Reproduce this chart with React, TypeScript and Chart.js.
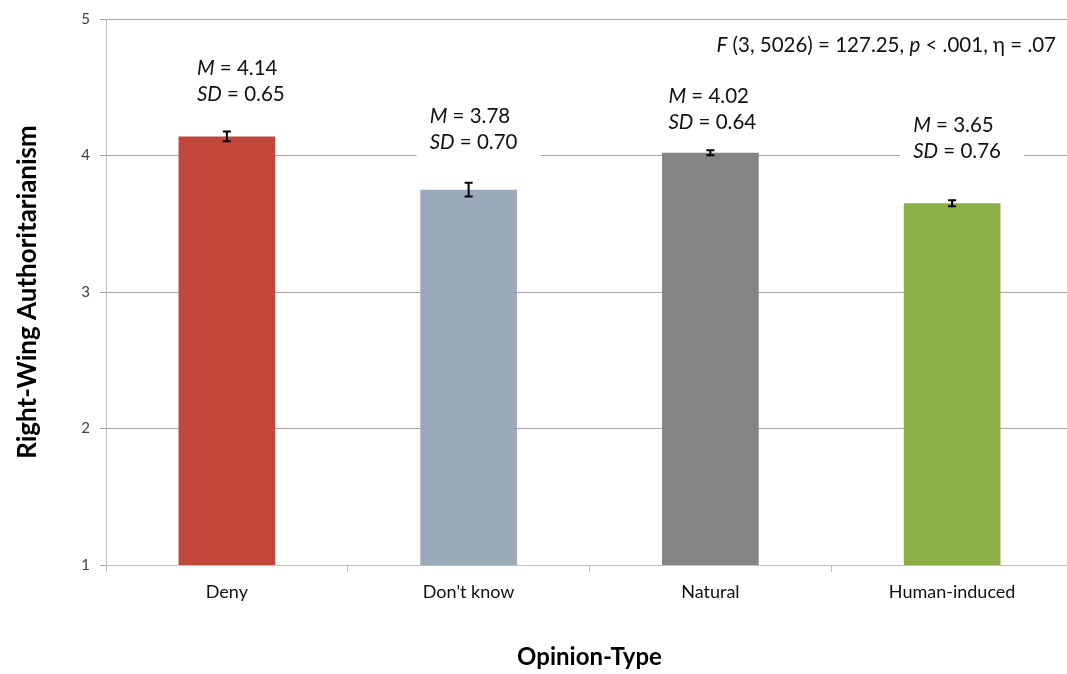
import React, { useEffect, useRef } from "react";
import { Chart, registerables } from "chart.js";

Chart.register(...registerables);

const categories = ["Deny", "Don't know", "Natural", "Human-induced"];
const barValues = [4.14, 3.75, 4.02, 3.65];
const errorValues = [0.035, 0.05, 0.018, 0.022];
const meanLabels = ["4.14", "3.78", "4.02", "3.65"];
const sdLabels = ["0.65", "0.70", "0.64", "0.76"];
const labelLevels = [4.635, 4.285, 4.431, 4.219];
const labelBoxed = [false, true, false, true];
const barColors = ["#C0473A", "#9AAABB", "#848484", "#8CAF48"];
const yTicks = [1, 2, 3, 4, 5];

const FONT = "Lato, 'Open Sans', sans-serif";

const annotPlugin = {
  id: "annot",
  afterDatasetsDraw(chart: any) {
    const ctx = chart.ctx;
    const meta = chart.getDatasetMeta(0);
    const y = chart.scales.y;
    ctx.save();
    // error bars
    ctx.strokeStyle = "#000";
    ctx.lineWidth = 2;
    meta.data.forEach((bar: any, i: number) => {
      const x = bar.x;
      const yt = y.getPixelForValue(barValues[i] + errorValues[i]);
      const yb = y.getPixelForValue(barValues[i] - errorValues[i]);
      ctx.beginPath();
      ctx.moveTo(x, yt);
      ctx.lineTo(x, yb);
      ctx.moveTo(x - 4, yt);
      ctx.lineTo(x + 4, yt);
      ctx.moveTo(x - 4, yb);
      ctx.lineTo(x + 4, yb);
      ctx.stroke();
    });
    // labels
    const size = 20.5;
    const italic = `italic ${size}px ${FONT}`;
    const normal = `${size}px ${FONT}`;
    const drawParts = (parts: [string, boolean][], x: number, yy: number) => {
      let cx = x;
      parts.forEach(([t, it]) => {
        ctx.font = it ? italic : normal;
        ctx.fillText(t, cx, yy);
        cx += ctx.measureText(t).width;
      });
      return cx;
    };
    const measure = (parts: [string, boolean][]) => {
      let w = 0;
      parts.forEach(([t, it]) => {
        ctx.font = it ? italic : normal;
        w += ctx.measureText(t).width;
      });
      return w;
    };
    ctx.textBaseline = "middle";
    ctx.textAlign = "left";
    const xOff = [-30, -39, -42, -39];
    meta.data.forEach((bar: any, i: number) => {
      const lx = bar.x + xOff[i];
      const my = y.getPixelForValue(labelLevels[i]);
      const sy = my + 26;
      if (labelBoxed[i]) {
        ctx.fillStyle = "#fff";
        ctx.fillRect(lx - 13, my - 14, 124, sy + 18 - (my - 14));
      }
      ctx.fillStyle = "#111";
      drawParts([["M", true], [" = " + meanLabels[i], false]], lx, my);
      drawParts([["SD", true], [" = " + sdLabels[i], false]], lx, sy);
    });
    // F statistic
    const fParts: [string, boolean][] = [
      ["F", true],
      [" (3, 5026) = 127.25, ", false],
      ["p", true],
      [" < .001, η = .07", false],
    ];
    const w = measure(fParts);
    ctx.fillStyle = "#111";
    drawParts(fParts, 1056 - w, 45);
    ctx.restore();
  },
};

export default function App() {
  const ref = useRef<HTMLCanvasElement>(null);
  useEffect(() => {
    if (!ref.current) return;
    const chart = new Chart(ref.current, {
      type: "bar",
      data: {
        labels: categories,
        datasets: [
          {
            data: barValues,
            backgroundColor: barColors,
            borderWidth: 0,
            barPercentage: 0.4,
            categoryPercentage: 1,
          },
        ],
      },
      options: {
        animation: false,
        responsive: false,
        devicePixelRatio: 1,
        layout: { padding: { left: 0, top: 17, right: 17, bottom: 0 } },
        plugins: { legend: { display: false }, tooltip: { enabled: false } },
        scales: {
          x: {
            offset: true,
            grid: {
              offset: true,
              drawOnChartArea: false,
              tickLength: 7,
              color: "#bfbfbf",
            },
            border: { color: "#bfbfbf", width: 1 },
            ticks: {
              padding: 9,
              color: "#111",
              font: { family: FONT, size: 18 },
            },
            title: {
              display: true,
              text: "Opinion-Type",
              color: "#000",
              font: { family: FONT, size: 24, weight: "bold" },
              padding: { top: 0, bottom: 2 },
            },
            afterFit: (s: any) => {
              s.height = 109;
            },
          },
          y: {
            min: 1,
            max: 5,
            afterBuildTicks: (s: any) => {
              s.ticks = yTicks.map((v) => ({ value: v }));
            },
            grid: { color: "#a6a6a6", tickLength: 6 },
            border: { color: "#bfbfbf", width: 1 },
            ticks: {
              padding: 10,
              color: "#404040",
              font: { family: FONT, size: 15 },
            },
            title: {
              display: true,
              text: "Right-Wing Authoritarianism",
              color: "#000",
              font: { family: FONT, size: 26, weight: "bold" },
              padding: { top: 12, bottom: 0 },
            },
            afterFit: (s: any) => {
              s.width = 106;
            },
          },
        },
      },
      plugins: [annotPlugin],
    } as any);
    return () => chart.destroy();
  }, []);
  return (
    <div
      style={{
        position: "fixed",
        left: 0,
        top: 0,
        width: 1067,
        height: 674,
        overflow: "hidden",
        background: "#fff",
      }}
    >
      <canvas ref={ref} width={1090} height={674} style={{ width: 1090, height: 674, display: "block" }} />
    </div>
  );
}
